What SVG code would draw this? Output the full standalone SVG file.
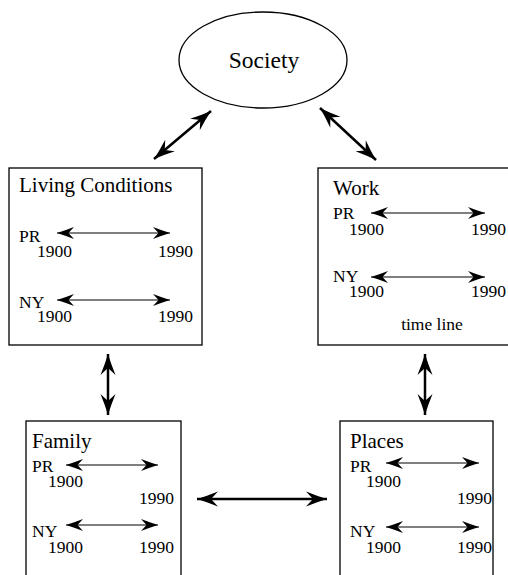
<svg xmlns="http://www.w3.org/2000/svg" width="508" height="575" viewBox="0 0 508 575">
<style>
text{font-family:"Liberation Serif","Times New Roman",serif;fill:#000}
.t{font-size:21px}
.s{font-size:17.5px}
.box{fill:#fff;stroke:#000;stroke-width:1.3}
.c{stroke:#000;stroke-width:2.5;fill:none}
.i{stroke:#000;stroke-width:1.2;fill:none}
</style>
<defs>
<marker id="ah" markerUnits="userSpaceOnUse" markerWidth="26" markerHeight="18" viewBox="-24 -9 26 18" refX="0" refY="0" orient="auto-start-reverse">
<path d="M0,0 Q-10,-3 -21,-7.5 L-14,0 L-21,7.5 Q-10,3 0,0 Z" fill="#000"/>
</marker>
<marker id="ai" markerUnits="userSpaceOnUse" markerWidth="22" markerHeight="14" viewBox="-20 -7 22 14" refX="0" refY="0" orient="auto-start-reverse">
<path d="M0,0 Q-8,-2.5 -17,-6 L-11.5,0 L-17,6 Q-8,2.5 0,0 Z" fill="#000"/>
</marker>
</defs>
<rect width="508" height="575" fill="#fff"/>
<g id="society">
<ellipse cx="263" cy="60" rx="84" ry="48" fill="#fff" stroke="#000" stroke-width="1.3"/>
<text x="264" y="68" font-size="23.5" text-anchor="middle">Society</text>
</g>
<g id="living-conditions">
<rect class="box" x="9" y="168" width="193" height="177"/>
<text class="t" x="19" y="192">Living Conditions</text>
<text class="s" x="19" y="242">PR</text>
<line class="i" x1="57" y1="233" x2="170" y2="233" marker-start="url(#ai)" marker-end="url(#ai)"/>
<text class="s" x="37" y="257">1900</text>
<text class="s" x="158" y="257">1990</text>
<text class="s" x="19" y="308">NY</text>
<line class="i" x1="57" y1="300" x2="170" y2="300" marker-start="url(#ai)" marker-end="url(#ai)"/>
<text class="s" x="37" y="322">1900</text>
<text class="s" x="158" y="322">1990</text>
</g>
<g id="work">
<rect class="box" x="318" y="168" width="200" height="177"/>
<text class="t" x="333" y="195">Work</text>
<text class="s" x="333" y="219">PR</text>
<line class="i" x1="371" y1="213" x2="485" y2="213" marker-start="url(#ai)" marker-end="url(#ai)"/>
<text class="s" x="349" y="235">1900</text>
<text class="s" x="471" y="235">1990</text>
<text class="s" x="333" y="282">NY</text>
<line class="i" x1="371" y1="277" x2="485" y2="277" marker-start="url(#ai)" marker-end="url(#ai)"/>
<text class="s" x="349" y="297">1900</text>
<text class="s" x="471" y="297">1990</text>
<text class="s" x="432" y="330" text-anchor="middle">time line</text>
</g>
<g id="family">
<rect class="box" x="26" y="421" width="155" height="165"/>
<text class="t" x="32" y="448">Family</text>
<text class="s" x="32" y="472">PR</text>
<line class="i" x1="66" y1="465" x2="158" y2="465" marker-start="url(#ai)" marker-end="url(#ai)"/>
<text class="s" x="48" y="487">1900</text>
<text class="s" x="139" y="504">1990</text>
<text class="s" x="32" y="537">NY</text>
<line class="i" x1="66" y1="525" x2="158" y2="525" marker-start="url(#ai)" marker-end="url(#ai)"/>
<text class="s" x="48" y="553">1900</text>
<text class="s" x="139" y="553">1990</text>
</g>
<g id="places">
<rect class="box" x="340" y="421" width="153" height="165"/>
<text class="t" x="350" y="448">Places</text>
<text class="s" x="350" y="472">PR</text>
<line class="i" x1="386" y1="463" x2="479" y2="463" marker-start="url(#ai)" marker-end="url(#ai)"/>
<text class="s" x="366" y="487">1900</text>
<text class="s" x="457" y="504">1990</text>
<text class="s" x="350" y="537">NY</text>
<line class="i" x1="386" y1="527" x2="479" y2="527" marker-start="url(#ai)" marker-end="url(#ai)"/>
<text class="s" x="366" y="553">1900</text>
<text class="s" x="457" y="553">1990</text>
</g>
<g id="connectors">
<line class="c" x1="211" y1="111" x2="154" y2="159" marker-start="url(#ah)" marker-end="url(#ah)"/>
<line class="c" x1="320" y1="108" x2="376" y2="160" marker-start="url(#ah)" marker-end="url(#ah)"/>
<line class="c" x1="108" y1="354" x2="108" y2="415" marker-start="url(#ah)" marker-end="url(#ah)"/>
<line class="c" x1="425" y1="354" x2="425" y2="415" marker-start="url(#ah)" marker-end="url(#ah)"/>
<line class="c" x1="197" y1="499" x2="327" y2="499" marker-start="url(#ah)" marker-end="url(#ah)"/>
</g>
</svg>
